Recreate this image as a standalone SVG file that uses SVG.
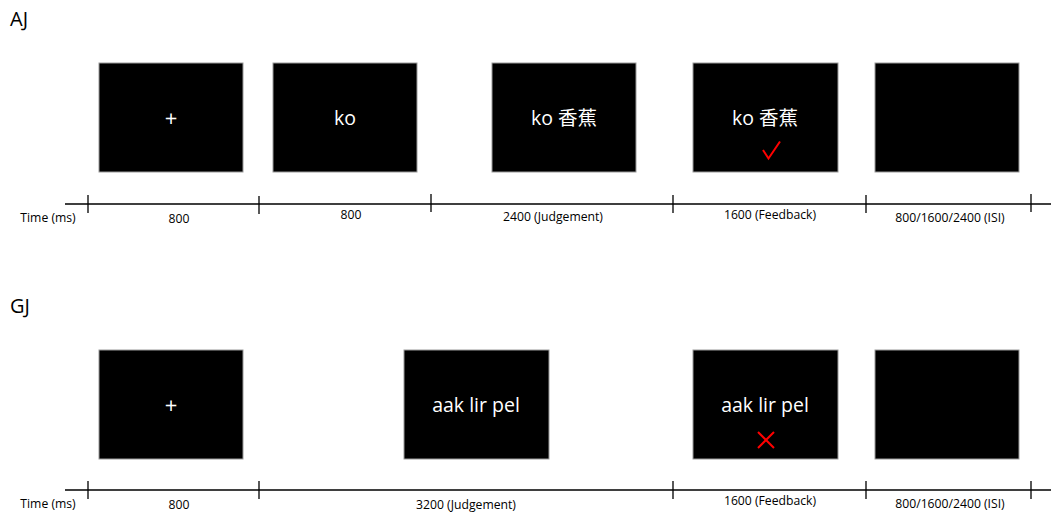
<svg xmlns="http://www.w3.org/2000/svg" width="1051" height="516" viewBox="0 0 1051 516">
<style>
.scr{fill:#000;stroke:#9a9a9a;stroke-width:1}
.st{fill:#fff;font-family:"Open Sans","Noto Sans CJK SC",sans-serif;font-size:19.5px;text-anchor:middle}
.pl{font-size:22px}
.lbl{fill:#000;font-family:"Open Sans",sans-serif;font-size:12.2px;text-anchor:middle}
.ttl{fill:#000;font-family:"Open Sans",sans-serif;font-size:20px}
.ax{stroke:#000;stroke-width:1.3;fill:none}
.fb{stroke:#f00;stroke-width:2;fill:none}
</style>
<rect width="1051" height="516" fill="#fff"/>
<text class="ttl" x="10" y="26">AJ</text>
<text class="ttl" x="10" y="313">GJ</text>

<g id="aj-fixation"><rect class="scr" x="99" y="63" width="144" height="109"/><text class="st pl" x="171" y="126">+</text></g>
<g id="aj-word"><rect class="scr" x="273" y="63" width="144" height="109"/><text class="st" x="345" y="125">ko</text></g>
<g id="aj-judgement"><rect class="scr" x="492" y="63" width="144" height="109"/><text class="st" x="564" y="125">ko 香蕉</text></g>
<g id="aj-feedback"><rect class="scr" x="693" y="63" width="145" height="109"/><text class="st" x="765" y="125">ko 香蕉</text><path class="fb" d="M763,150 L768.5,158.5 L780,141.5"/></g>
<g id="aj-isi"><rect class="scr" x="875" y="63" width="144" height="109"/></g>

<g id="gj-fixation"><rect class="scr" x="99" y="350" width="144" height="109"/><text class="st pl" x="171" y="413">+</text></g>
<g id="gj-judgement"><rect class="scr" x="404" y="350" width="145" height="109"/><text class="st" x="476" y="412">aak lir pel</text></g>
<g id="gj-feedback"><rect class="scr" x="693" y="350" width="145" height="109"/><text class="st" x="765" y="412">aak lir pel</text><path class="fb" d="M758,432 L774,448 M774,432 L758,448"/></g>
<g id="gj-isi"><rect class="scr" x="875" y="350" width="144" height="109"/></g>

<g id="timelines">
<path class="ax" d="M65,204 H1051 M88,195 V213 M259,196 V214 M431,194 V212 M673,195 V213 M866,195 V213 M1031,194 V212"/>
<path class="ax" d="M65,490 H1051 M88,481 V499 M259,481 V499 M673,481 V499 M866,481 V499 M1031,481 V499"/>
</g>

<g id="labels">
<text class="lbl" x="48" y="222">Time (ms)</text>
<text class="lbl" x="179" y="223">800</text>
<text class="lbl" x="351" y="219">800</text>
<text class="lbl" x="553" y="221">2400 (Judgement)</text>
<text class="lbl" x="770" y="219">1600 (Feedback)</text>
<text class="lbl" x="950" y="222">800/1600/2400 (ISI)</text>
<text class="lbl" x="48" y="508">Time (ms)</text>
<text class="lbl" x="179" y="509">800</text>
<text class="lbl" x="466" y="509">3200 (Judgement)</text>
<text class="lbl" x="770" y="505">1600 (Feedback)</text>
<text class="lbl" x="950" y="508">800/1600/2400 (ISI)</text>
</g>
</svg>
